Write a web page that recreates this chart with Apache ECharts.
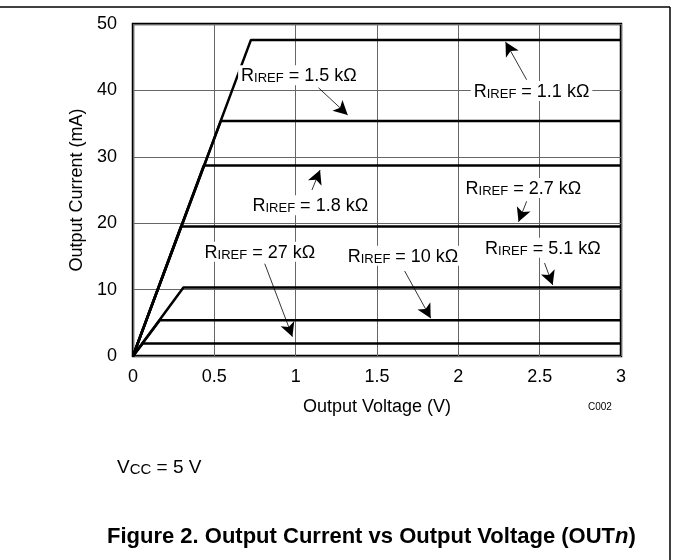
<!DOCTYPE html>
<html>
<head>
<meta charset="utf-8">
<script src="https://cdn.jsdelivr.net/npm/echarts@6/dist/echarts.min.js"></script>
<style>
  html, body { margin: 0; padding: 0; background: #fff; }
  #chart { width: 673px; height: 560px; }
</style>
</head>
<body>
<div id="chart"></div>
<script>
// curves: each one rises from origin to a knee, then stays flat to 3 V
var resistors = ['1.1', '1.5', '1.8', '2.7', '5.1', '10', '27'];
var levels = [47.6, 35.4, 28.7, 19.5, 10.3, 5.4, 1.9];     // mA
var knees = [0.725, 0.54, 0.435, 0.295, 0.31, 0.165, 0.06]; // V
var xTicks = [0, 0.5, 1, 1.5, 2, 2.5, 3];
var yTicks = [0, 10, 20, 30, 40, 50];

// annotation label centres and arrows (data coords), same order as resistors
var labelPos = [[2.45, 39.9], [1.02, 42.3], [1.09, 22.7], [2.40, 25.3], [2.52, 16.3], [1.66, 15.1], [0.78, 15.7]];
var arrowFrom = [[2.42, 41.6], [1.14, 40.4], [1.10, 25.0], [2.42, 23.3], [2.53, 14.0], [1.67, 12.8], [0.81, 13.9]];
var arrowTo = [[2.29, 47.3], [1.32, 36.3], [1.15, 28.0], [2.37, 20.2], [2.58, 10.7], [1.83, 5.7], [0.98, 2.9]];

var font = 'Liberation Sans, Arial, sans-serif';
const chart = echarts.init(document.getElementById('chart'));

var series = resistors.map(function (r, i) {
    return {
        type: 'line',
        name: r,
        data: [[0, 0], [knees[i], levels[i]], [3, levels[i]]],
        symbol: 'none',
        lineStyle: { color: '#000', width: 2.5 },
        z: 3
    };
});

var richLabel = {
    a: { fontSize: 18, fontFamily: font, color: '#000', lineHeight: 18, verticalAlign: 'top' },
    b: { fontSize: 13, fontFamily: font, color: '#000', lineHeight: 13, verticalAlign: 'bottom', padding: [9, 0, 0, 0] }
};

series.push({
    type: 'scatter',
    data: [],
    markLine: {
        silent: true,
        symbol: ['none', 'arrow'],
        symbolSize: [11, 14],
        label: { show: false },
        lineStyle: { color: '#000', width: 0.8, type: 'solid' },
        data: arrowFrom.map(function (p, i) {
            return [{ coord: p }, { coord: arrowTo[i] }];
        })
    },
    markPoint: {
        silent: true,
        symbol: 'rect',
        symbolSize: 1,
        itemStyle: { color: 'rgba(0,0,0,0)' },
        label: {
            show: true,
            position: 'inside',
            backgroundColor: '#fff',
            padding: [2, 3, 0, 3],
            rich: richLabel
        },
        data: labelPos.map(function (p, i) {
            return {
                coord: p,
                label: { formatter: '{a|R}{b|IREF}{a| = ' + resistors[i] + ' kΩ}' }
            };
        })
    },
    z: 2
});

option = {
    animation: false,
    backgroundColor: '#fff',
    grid: {
        left: 133, right: 52, top: 24, bottom: 204,
        show: true, borderColor: '#000', borderWidth: 2.5
    },
    xAxis: {
        type: 'value', min: 0, max: 3, interval: 0.5,
        name: 'Output Voltage (V)', nameLocation: 'middle', nameGap: 42,
        nameTextStyle: { fontSize: 18, fontFamily: font, color: '#000' },
        axisLine: { show: false },
        axisTick: { show: false },
        axisLabel: {
            fontSize: 18, fontFamily: font, color: '#000', margin: 12,
            formatter: function (v) { return xTicks.indexOf(v) >= 0 ? String(v) : ''; }
        },
        splitLine: { lineStyle: { color: '#666', width: 1 } }
    },
    yAxis: {
        type: 'value', min: 0, max: 50, interval: 10,
        name: 'Output Current (mA)', nameLocation: 'middle', nameGap: 44,
        nameTextStyle: { fontSize: 18, fontFamily: font, color: '#000' },
        axisLine: { show: false },
        axisTick: { show: false },
        axisLabel: {
            fontSize: 18, fontFamily: font, color: '#000', margin: 16,
            formatter: function (v) { return yTicks.indexOf(v) >= 0 ? String(v) : ''; }
        },
        splitLine: { lineStyle: { color: '#666', width: 1 } }
    },
    graphic: [
        { type: 'line', shape: { x1: 0, y1: 7, x2: 670, y2: 7 }, style: { stroke: '#000', lineWidth: 1.5 } },
        { type: 'line', shape: { x1: 670, y1: 7, x2: 670, y2: 560 }, style: { stroke: '#000', lineWidth: 1.5 } },
        { type: 'text', left: 588, top: 402, style: { text: 'C002', font: '10px ' + font, fill: '#000' } },
        {
            type: 'text', left: 117, top: 454,
            style: {
                text: '{a|V}{b|CC}{a| = 5 V}',
                rich: {
                    a: { fontSize: 19, fontFamily: font, fill: '#000', lineHeight: 19, verticalAlign: 'top' },
                    b: { fontSize: 15, fontFamily: font, fill: '#000', lineHeight: 15, verticalAlign: 'bottom', padding: [8, 0, 0, 0] }
                }
            }
        },
        {
            type: 'text', left: 107, top: 526,
            style: {
                text: '{b|Figure 2. Output Current vs Output Voltage (OUT}{i|n}{b|)}',
                rich: {
                    b: { fontSize: 22, fontWeight: 'bold', fontFamily: font, fill: '#000' },
                    i: { fontSize: 22, fontWeight: 'bold', fontStyle: 'italic', fontFamily: font, fill: '#000' }
                }
            }
        }
    ],
    series: series
};

chart.setOption(option);
</script>
</body>
</html>
